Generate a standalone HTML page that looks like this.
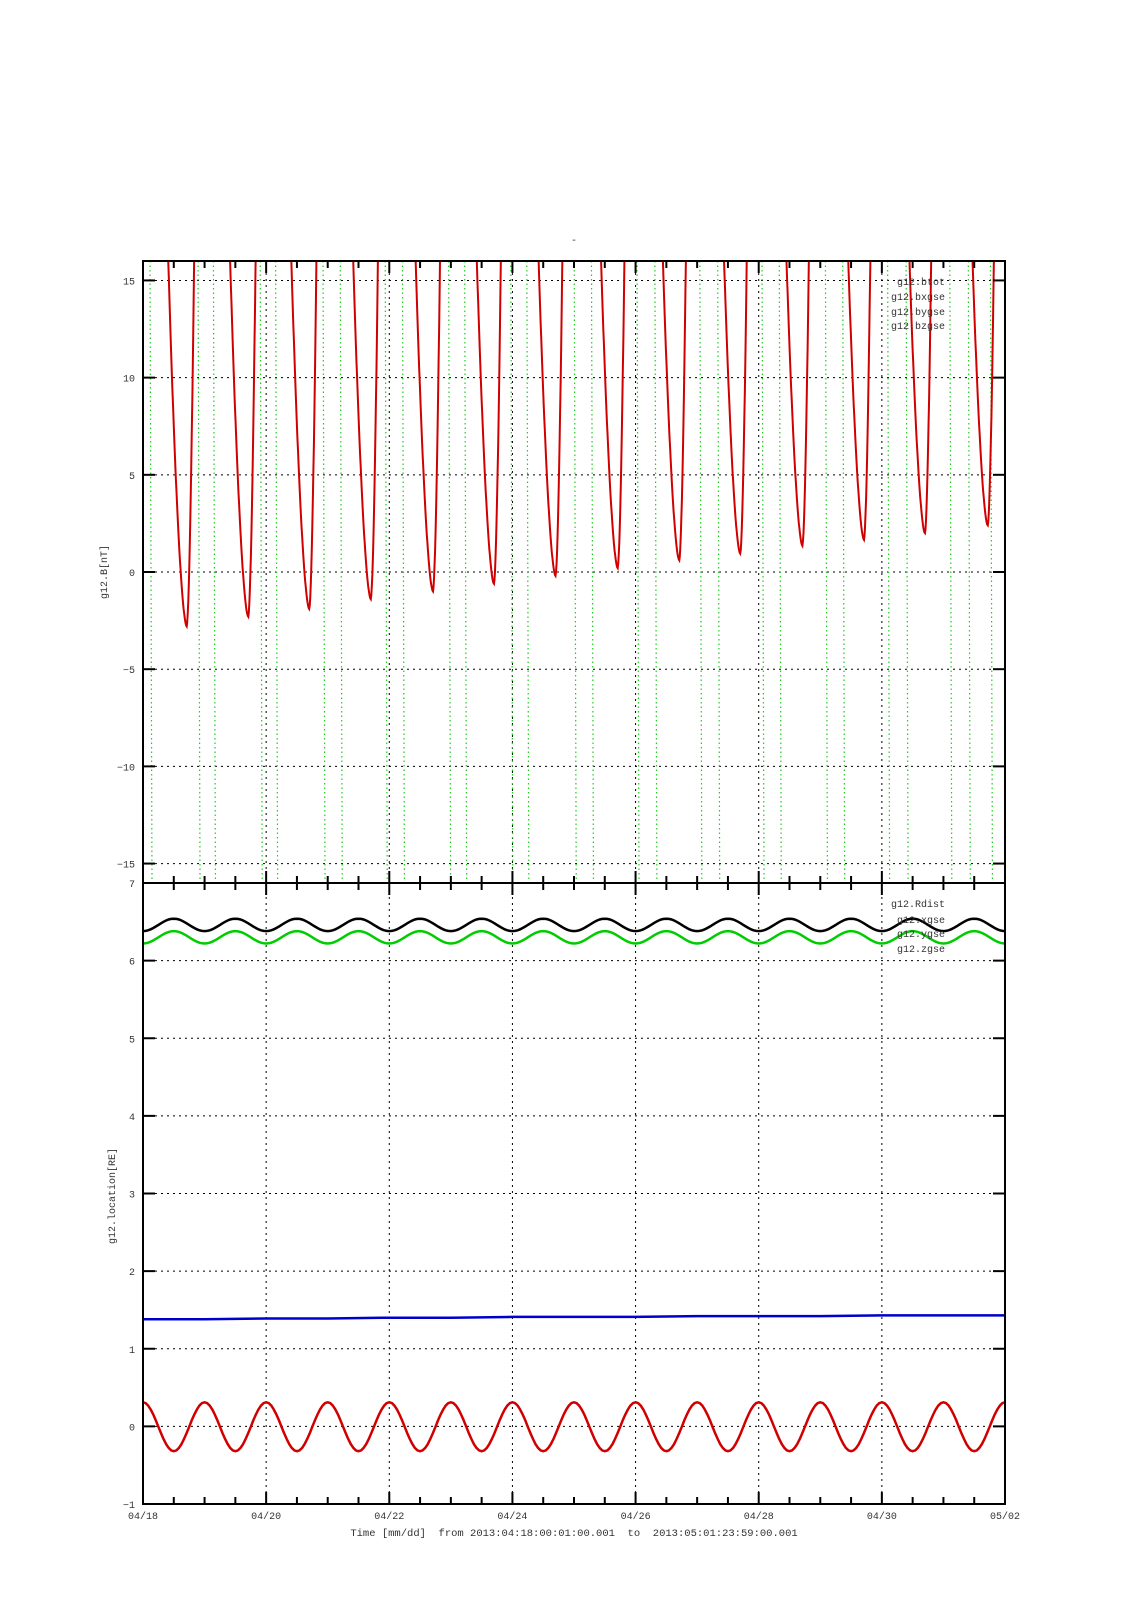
<!DOCTYPE html>
<html><head><meta charset="utf-8"><style>
body{margin:0;background:#fff}
svg text{font-family:"Liberation Mono",monospace;font-size:10px;fill:#333}
</style></head><body>
<svg id="chart" width="1131" height="1600" xmlns="http://www.w3.org/2000/svg">
<rect width="1131" height="1600" fill="#fff"/>
<text x="574" y="243" text-anchor="middle">-</text>
<defs>
<clipPath id="clipTop"><rect x="143" y="261" width="862" height="622"/></clipPath>
<clipPath id="clipBot"><rect x="143" y="883" width="862" height="621"/></clipPath>
</defs>
<g id="grid"></g>
<g id="series"></g>
<g id="axes"></g>
</svg>
<script>
// ---- data ----
const dayLabels = ["04/18","04/20","04/22","04/24","04/26","04/28","04/30","05/02"];
const topTicks = [15,10,5,0,-5,-10,-15];
const botTicks = [7,6,5,4,3,2,1,0,-1];
// top panel: bxgse dips (day of minimum, minimum value nT)
const dipDays = [0.71,1.71,2.70,3.70,4.71,5.70,6.70,7.71,8.71,9.70,10.71,11.71,12.70,13.72];
const dipMins = [-2.8,-2.3,-1.9,-1.4,-1.0,-0.6,-0.2,0.2,0.6,0.95,1.35,1.65,2.0,2.4];
// top panel: by/bz near-vertical crossings (days)
const greenDays = [0.13,0.91,1.16,1.92,2.17,2.94,3.22,3.95,4.23,4.98,5.24,5.99,6.25,7.02,7.30,8.04,8.33,9.06,9.35,10.07,10.35,11.10,11.38,12.11,12.41,13.12,13.42,13.78];
// bottom panel: daily extremes
const rdistLow  = [6.38,6.38,6.38,6.38,6.38,6.38,6.38,6.38,6.38,6.38,6.38,6.38,6.38,6.38,6.38];
const rdistHigh = [6.54,6.54,6.54,6.54,6.54,6.54,6.54,6.54,6.54,6.54,6.54,6.54,6.54,6.54];
const ygseLow   = [6.22,6.22,6.22,6.22,6.22,6.22,6.22,6.22,6.22,6.22,6.22,6.22,6.22,6.22,6.22];
const ygseHigh  = [6.38,6.38,6.38,6.38,6.38,6.38,6.38,6.38,6.38,6.38,6.38,6.38,6.38,6.38];
const xgseHigh  = [0.31,0.31,0.31,0.31,0.31,0.31,0.31,0.31,0.31,0.31,0.31,0.31,0.31,0.31,0.31];
const xgseLow   = [-0.32,-0.32,-0.32,-0.32,-0.32,-0.32,-0.32,-0.32,-0.32,-0.32,-0.32,-0.32,-0.32,-0.32];
const zgseDaily = [1.38,1.38,1.39,1.39,1.40,1.40,1.41,1.41,1.41,1.42,1.42,1.42,1.43,1.43,1.43];

// ---- axes ----
const X0=143,X1=1005,T0=261,T1=883,B1=1504;
const xs=d=>X0+(X1-X0)*d/14;
const yT=v=>T0+(16-v)*(T1-T0)/32;
const yB=v=>T1+(7-v)*(B1-T1)/8;
const NS="http://www.w3.org/2000/svg";
function mk(tag,attrs,parent){const e=document.createElementNS(NS,tag);for(const k in attrs)e.setAttribute(k,attrs[k]);parent.appendChild(e);return e;}
const grid=document.getElementById('grid'),ser=document.getElementById('series'),ax=document.getElementById('axes');

topTicks.forEach(v=>{const l=mk('line',{x1:X0,x2:X1,y1:yT(v),y2:yT(v),stroke:'#000','stroke-width':1,'stroke-dasharray':'2,4'},grid);

});
botTicks.forEach(v=>{const l=mk('line',{x1:X0,x2:X1,y1:yB(v),y2:yB(v),stroke:'#000','stroke-width':1,'stroke-dasharray':'2,4'},grid);

});
for(let d=2;d<14;d+=2){const l=mk('line',{x1:xs(d),x2:xs(d),y1:T0,y2:B1,stroke:'#000','stroke-width':1,'stroke-dasharray':'2,4'},grid);

}

const gT=mk('g',{'clip-path':'url(#clipTop)'},ser);
greenDays.forEach(d=>{const l=mk('line',{x1:xs(d)-1,x2:xs(d)+1,y1:T0,y2:T1,stroke:'#22cc22','stroke-width':1.2,'stroke-dasharray':'1.5,3'},gT);

});
dipDays.forEach((dd,i)=>{
  let p='';
  for(let k=0;k<=60;k++){const dt=-0.35+0.5*k/60;const a=dt<0?146:690;const v=dipMins[i]+a*Math.pow(Math.abs(dt),1.7);
    p+=(k?'L':'M')+xs(dd+dt).toFixed(1)+','+yT(Math.min(v,17)).toFixed(1);}
  const e=mk('path',{d:p,fill:'none',stroke:'#d00000','stroke-width':2},gT);
  
  
});

function wave(highs,lows,highFirst,color,name){
  let pts=[];
  for(let h=0;h<=28;h++){const day=h/2;const idx=Math.floor(h/2);
    const isHigh=highFirst?(h%2===0):(h%2===1);
    const v=isHigh?highs[Math.min(idx,highs.length-1)]:lows[Math.min(idx,lows.length-1)];
    pts.push([day,v]);}
  let p='M'+xs(pts[0][0])+','+yB(pts[0][1]);
  for(let i=0;i<pts.length-1;i++){const [d0,v0]=pts[i],[d1,v1]=pts[i+1];
    for(let k=1;k<=12;k++){const f=(1-Math.cos(Math.PI*k/12))/2;p+='L'+xs(d0+(d1-d0)*k/12).toFixed(1)+','+yB(v0+(v1-v0)*f).toFixed(1);}}
  const e=mk('path',{d:p,fill:'none',stroke:color,'stroke-width':2.5},gB);
  
  
}
const gB=mk('g',{'clip-path':'url(#clipBot)'},ser);
wave(rdistHigh,rdistLow,false,'#000','rdist-line');
wave(ygseHigh,ygseLow,false,'#00cc00','ygse-line');
wave(xgseHigh,xgseLow,true,'#d00000','xgse-line');
{let p='';zgseDaily.forEach((v,i)=>{p+=(i?'L':'M')+xs(i)+','+yB(v).toFixed(1);});
const e=mk('path',{d:p,fill:'none',stroke:'#0000cc','stroke-width':2.5},gB);

}

[[T0,T1],[T1,B1]].forEach(([a,b])=>{const r=mk('rect',{x:X0,y:a,width:X1-X0,height:b-a,fill:'none',stroke:'#000','stroke-width':2},ax);

});
for(let h=1;h<28;h++){const d=h/2,len=(h%4===0)?12:7;
  [[T0,1],[T1,-1],[T1,1],[B1,-1]].forEach(([y,s])=>{const l=mk('line',{x1:xs(d),x2:xs(d),y1:y,y2:y+s*len,stroke:'#000','stroke-width':2},ax);
  
  });}
topTicks.forEach(v=>{[[X0,1],[X1,-1]].forEach(([x,s])=>{const l=mk('line',{x1:x,x2:x+s*12,y1:yT(v),y2:yT(v),stroke:'#000','stroke-width':2},ax);
  
  });
  const t=mk('text',{x:X0-8,y:yT(v)+4,'text-anchor':'end'},ax);t.textContent=v===0?'0':(v<0?'\u2212'+(-v):v);
  
  });
botTicks.forEach(v=>{[[X0,1],[X1,-1]].forEach(([x,s])=>{const l=mk('line',{x1:x,x2:x+s*12,y1:yB(v),y2:yB(v),stroke:'#000','stroke-width':2},ax);
  
  });
  const t=mk('text',{x:X0-8,y:yB(v)+4,'text-anchor':'end'},ax);t.textContent=v<0?'\u2212'+(-v):v;
  
  });
dayLabels.forEach((s,i)=>{const t=mk('text',{x:xs(i*2),y:1519,'text-anchor':'middle'},ax);t.textContent=s;
  
  });
</script>
<svg style="position:absolute;left:0;top:0" width="1131" height="1600">
<text x="574" y="1536" text-anchor="middle" style="font-family:'Liberation Mono',monospace;font-size:10.5px;fill:#333;white-space:pre">Time [mm/dd]  from 2013:04:18:00:01:00.001  to  2013:05:01:23:59:00.001</text>
<text transform="translate(107,572) rotate(-90)" text-anchor="middle" style="font-family:'Liberation Mono',monospace;font-size:10px;fill:#333">g12.B[nT]</text>
<text transform="translate(115,1196) rotate(-90)" text-anchor="middle" style="font-family:'Liberation Mono',monospace;font-size:10px;fill:#333">g12.location[RE]</text>
<g style="font-family:'Liberation Mono',monospace;font-size:10px;fill:#333">
<text x="945" y="285" text-anchor="end">g12.btot</text>
<text x="945" y="300" text-anchor="end">g12.bxgse</text>
<text x="945" y="315" text-anchor="end">g12.bygse</text>
<text x="945" y="329" text-anchor="end">g12.bzgse</text>
</g>
<g style="font-family:'Liberation Mono',monospace;font-size:10px;fill:#333">
<text x="945" y="907" text-anchor="end">g12.Rdist</text>
<text x="945" y="923" text-anchor="end">g12.xgse</text>
<text x="945" y="937" text-anchor="end">g12.ygse</text>
<text x="945" y="952" text-anchor="end">g12.zgse</text>
</g>
</svg>
</body></html>
